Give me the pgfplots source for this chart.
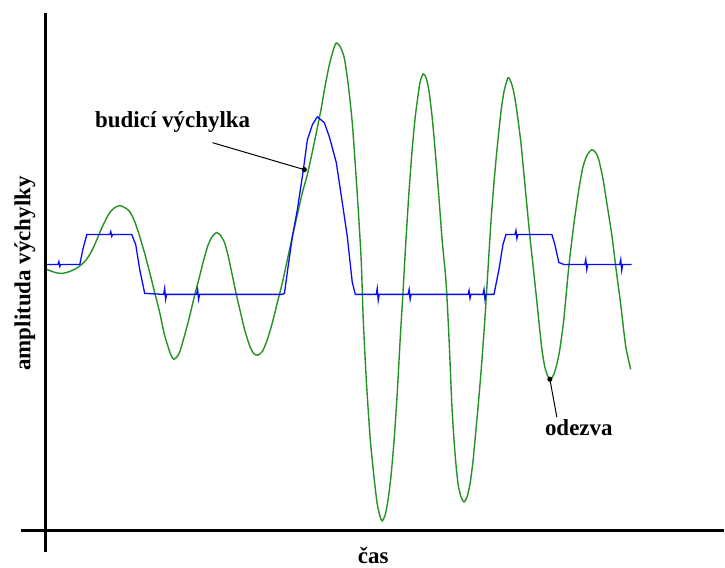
\documentclass[border=0pt]{standalone}
\usepackage{pgfplots}
\pgfplotsset{compat=1.18}
\usepackage{fontspec}
\setmainfont{Liberation Serif}
\definecolor{bluecurve}{RGB}{10,10,250}
\definecolor{greencurve}{RGB}{35,145,35}
\begin{document}
\begin{tikzpicture}
\begin{axis}[width=725pt,height=568pt,scale only axis,
  xmin=0,xmax=725,ymin=0,ymax=568,y dir=reverse,
  axis lines=none,clip=false]
% axes lines
\addplot[black,line width=3pt] coordinates {(46,13) (46,553)};
\addplot[black,line width=3pt] coordinates {(21,531.5) (725,531.5)};
% odezva (green)
\addplot[greencurve,line width=1.4pt,smooth,tension=0.4] coordinates {
(47,270)(55,273)(62,274)(70,272)(78,268)(85,262)(90,255)(95,245)(100,233)(105,222)
(110,213)(115,208)(120,206)(125,208)(130,212)(135,222)(140,237)(145,254)(150,273)
(155,293)(160,313)(164,332)(167,343)(171,355)(174,360)(177,358)(180,353)(185,336)
(190,317)(195,296)(200,277)(204,261)(208,247)(212,238)(217,233)(221,236)(225,243)
(229,258)(233,277)(237,296)(241,313)(245,330)(250,346)(254,354)(258,356)(263,352)
(268,340)(273,323)(278,303)(283,283)(288,260)(293,237)(298,215)(303,193)(308,175)
(313,152)(318,128)(322,108)(326,85)(330,65)(334,50)(337,43)(341,47)(345,58)(349,85)
(353,123)(356,165)(359,210)(362,262)(364,320)(367,380)(371,440)(375,480)(378,505)
(381,518)(383,522)(386,516)(389,500)(392,475)(395,440)(398,395)(401,340)(404,290)
(407,237)(410,190)(413,150)(416,118)(419,95)(421,82)(424,74)(427,78)(430,92)(433,117)
(436,150)(440,200)(443,240)(447,283)(450,340)(453,410)(456,455)(459,485)(462,498)
(465,503)(468,498)(471,485)(474,462)(477,430)(480,397)(483,360)(486,318)(489,270)
(492,222)(495,183)(498,150)(502,112)(505,92)(509,78)(512,82)(515,93)(518,112)(522,143)
(526,185)(530,227)(534,265)(537,293)(540,322)(543,350)(546,368)(549,377)(552,380)
(555,375)(558,365)(561,350)(565,320)(570,267)(575,225)(580,190)(584,168)(588,156)
(593,150)(597,153)(600,160)(604,178)(608,203)(613,235)(617,267)(622,305)(627,347)
(632,370)};
% budici vychylka (blue)
\addplot[bluecurve,line width=1.3pt] coordinates {
(47,265)(58,265)(59,262)(60,267)(61,265)(80,265)(83,250)(87,235)(110,235)(111,232)(112,237)(113,235)
(132,235)(136,245)(140,270)(145,294)(164,295)(165,289)(166,300)(167,295)
(197,295)(198,290)(199,300)(200,295)(283,295)(285,294)(289,265)(293,237)(298,210)
(304,170)(308,140)(313,125)(318,117)(325,123)(330,137)(337,163)(343,203)(348,237)
(353,283)(356,295)(377,295)(378,289)(379,301)(380,295)(409,295)(410,290)(411,300)(412,295)
(469,295)(470,291)(471,299)(472,295)(484,295)(485,290)(486,300)(487,295)
(495,295)(500,270)(504,245)(507,235)(516,235)(517,231)(518,239)(519,235)(553,235)(556,245)
(560,263)(565,265)(586,265)(587,260)(588,270)(589,265)(621,265)(622,260)(623,271)(624,265)(633,265)};
% annotation lines
\addplot[black,line width=1pt,mark=*,mark size=2pt,mark indices={2}] coordinates {(213,143) (305,170)};
\addplot[black,line width=1pt,mark=*,mark size=2pt,mark indices={1}] coordinates {(551,380) (558,418)};
% texts
\node[anchor=base,font=\bfseries\fontsize{23}{27}\selectfont] at (axis cs:173,128) {budicí výchylka};
\node[anchor=base,font=\bfseries\fontsize{23}{27}\selectfont] at (axis cs:580,436) {odezva};
\node[anchor=base,font=\bfseries\fontsize{23}{27}\selectfont] at (axis cs:374,565) {čas};
\node[rotate=90,font=\bfseries\fontsize{23}{27}\selectfont] at (axis cs:25,274) {amplituda výchylky};
\end{axis}
\path (current axis.south west) rectangle (current axis.north east);
\end{tikzpicture}
\end{document}
